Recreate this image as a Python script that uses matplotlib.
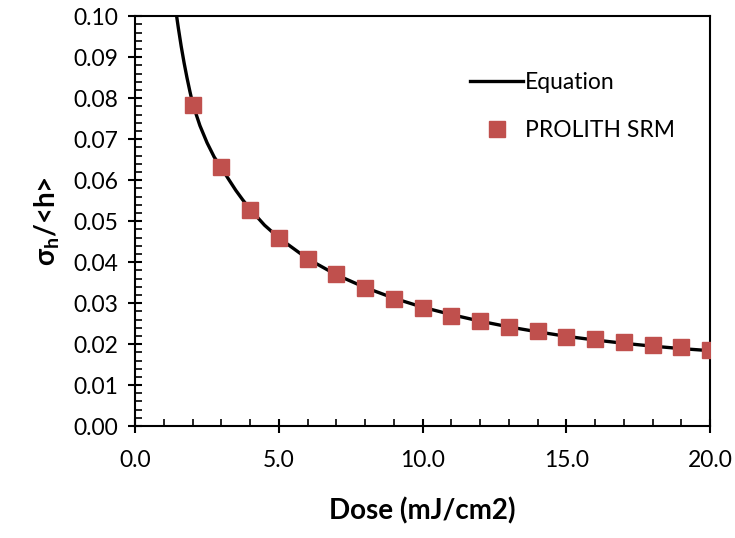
import matplotlib
matplotlib.use("Agg")
import matplotlib.pyplot as plt
from matplotlib.ticker import MultipleLocator, FormatStrFormatter

# Datos
dosis_srm = [2, 3, 4, 5, 6, 7, 8, 9, 10, 11, 12, 13, 14, 15, 16, 17, 18, 19, 20]
sigma_srm = [0.0784, 0.0632, 0.0527, 0.0458, 0.0407, 0.0370, 0.0337, 0.0310, 0.0289,
             0.0268, 0.0256, 0.0241, 0.0232, 0.0218, 0.0212, 0.0204, 0.0197, 0.0192, 0.0185]

dosis_eq = [1.44, 1.5, 1.6, 1.7, 1.8, 1.9, 2, 2.25, 2.5, 2.75, 3, 3.25, 3.5, 3.75, 4, 4.5,
            5, 6, 7, 8, 9, 10, 11, 12, 13, 14, 15, 16, 17, 18, 19, 20]
sigma_eq = [0.100, 0.0971, 0.0926, 0.0886, 0.0850, 0.0817, 0.0786, 0.0733, 0.0691, 0.0656,
            0.0630, 0.0602, 0.0575, 0.0551, 0.0529, 0.0490, 0.0459, 0.0408, 0.0369, 0.0338,
            0.0312, 0.0290, 0.0272, 0.0256, 0.0242, 0.0230, 0.0219, 0.0210, 0.0202, 0.0195,
            0.0189, 0.0184]

plt.rcParams['font.family'] = ['Lato', 'DejaVu Sans']
plt.rcParams['mathtext.fontset'] = 'custom'
plt.rcParams['mathtext.rm'] = 'Lato'
plt.rcParams['mathtext.bf'] = 'Lato:bold'

fig = plt.figure(figsize=(7.35, 5.38), dpi=100)
ax = fig.add_axes([0.184, 0.208, 0.782, 0.762])

ax.plot(dosis_eq, sigma_eq, color='black', lw=2.4, label='Equation', zorder=2)
ax.plot(dosis_srm, sigma_srm, ls='none', marker='s', ms=11, color='#C0504D',
        label='PROLITH SRM', zorder=3)

ax.set_xlim(0, 20)
ax.set_ylim(0, 0.10)
ax.xaxis.set_major_locator(MultipleLocator(5))
ax.xaxis.set_minor_locator(MultipleLocator(1))
ax.yaxis.set_major_locator(MultipleLocator(0.01))
ax.yaxis.set_minor_locator(MultipleLocator(0.002))
ax.xaxis.set_major_formatter(FormatStrFormatter('%.1f'))
ax.yaxis.set_major_formatter(FormatStrFormatter('%.2f'))

for s in ax.spines.values():
    s.set_linewidth(1.5)
ax.tick_params(which='major', direction='inout', length=10, width=1.5, labelsize=16.5, pad=7)
ax.tick_params(which='minor', direction='in', length=5, width=1.2)
ax.tick_params(axis='x', pad=12)

ax.set_xlabel('Dose (mJ/cm2)', fontsize=20, fontweight='bold', labelpad=19)
ax.set_ylabel(r'σ$_\mathbf{h}$/<h>', fontsize=20, fontweight='bold', labelpad=8)

ax.legend(loc='upper left', bbox_to_anchor=(0.567, 0.885), frameon=False, fontsize=16.5,
          handlelength=2.3, handletextpad=0.1, labelspacing=1.15, borderaxespad=0)

plt.savefig('out.png', dpi=100)
